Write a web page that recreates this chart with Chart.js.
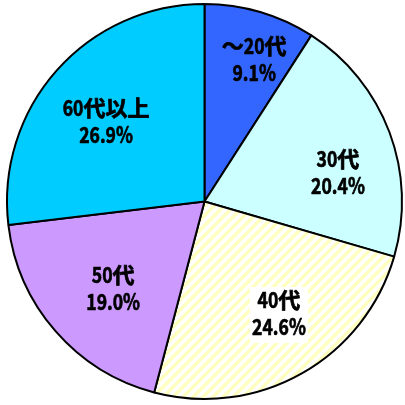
<!DOCTYPE html>
<html>
<head>
<meta charset="utf-8">
<script src="https://cdn.jsdelivr.net/npm/chart.js@4.4.1/dist/chart.umd.min.js"></script>
<style>
  html, body { margin: 0; padding: 0; background: #fff; }
  #wrap { width: 405px; height: 405px; }
</style>
</head>
<body>
<div id="wrap"><canvas id="pie" width="405" height="405"></canvas></div>
<script>
// 年代別の割合
const categories = ['～20代', '30代', '40代', '50代', '60代以上'];
const percents = [9.1, 20.4, 24.6, 19.0, 26.9];
const sliceColors = ['#3366FF', '#CCFFFF', null, '#CC99FF', '#00CCFF'];
// ラベル位置: 外径に対する比 と 中央角からのずれ(度)
const labelRadius = [0.765, 0.692, 0.679, 0.637, 0.644];
const labelShift = [2.8, 8, -4.2, -2.4, -2.3];

// 40代: 斜線ハッチ
function makeHatch() {
    const c = document.createElement('canvas');
    c.width = 10; c.height = 10;
    const g = c.getContext('2d');
    g.fillStyle = '#FFFFFF';
    g.fillRect(0, 0, 10, 10);
    g.strokeStyle = '#FFFFC0';
    g.lineWidth = 3.5;
    g.beginPath();
    g.moveTo(-5, 5); g.lineTo(5, -5);
    g.moveTo(0, 10); g.lineTo(10, 0);
    g.moveTo(5, 15); g.lineTo(15, 5);
    g.stroke();
    return g.createPattern(c, 'repeat');
}

// 半角部分だけ横を詰めて描く (元図のフォントに寄せる)
const NARROW = 0.8;
function drawMixed(g, text, cx, y) {
    const runs = text.match(/[\x20-\x7e]+|[^\x20-\x7e]+/g);
    const widths = runs.map(s => g.measureText(s).width * (/^[\x20-\x7e]/.test(s) ? NARROW : 1));
    let x = cx - widths.reduce((a, b) => a + b, 0) / 2;
    runs.forEach((s, k) => {
        g.save();
        g.translate(x, y);
        if (/^[\x20-\x7e]/.test(s)) g.scale(NARROW, 1);
        g.fillText(s, 0, 0);
        g.strokeText(s, 0, 0);
        g.restore();
        x += widths[k];
    });
}

const ctx = document.getElementById('pie').getContext('2d');
const colors = sliceColors.map(c => c || makeHatch());

const labelPlugin = {
    id: 'sliceLabels',
    afterDatasetsDraw(chart) {
        const g = chart.ctx;
        const arcs = chart.getDatasetMeta(0).data;
        g.save();
        g.font = 'bold 22px "Noto Sans CJK JP", sans-serif';
        g.textAlign = 'left';
        g.textBaseline = 'middle';
        g.lineWidth = 0.7;
        g.strokeStyle = '#000000';
        arcs.forEach((arc, i) => {
            const mid = (arc.startAngle + arc.endAngle) / 2 + labelShift[i] * Math.PI / 180;
            const r = arc.outerRadius * labelRadius[i];
            const x = arc.x + Math.cos(mid) * r;
            const y = arc.y + Math.sin(mid) * r;
            if (i === 2) {
                g.fillStyle = '#FFFFFF';
                g.fillRect(x - 29, y - 26, 58, 56);
            }
            g.fillStyle = '#000000';
            drawMixed(g, categories[i], x, y - 13);
            drawMixed(g, percents[i].toFixed(1) + '%', x, y + 14);
        });
        g.restore();
    }
};

new Chart(ctx, {
    type: 'pie',
    data: {
        labels: categories,
        datasets: [{
            data: percents,
            backgroundColor: colors,
            borderColor: '#000000',
            borderWidth: 2
        }]
    },
    options: {
        responsive: false,
        animation: false,
        layout: { padding: { left: 6, right: 2, top: 3, bottom: 5 } },
        plugins: {
            legend: { display: false },
            tooltip: { enabled: false }
        }
    },
    plugins: [labelPlugin]
});
</script>
</body>
</html>
